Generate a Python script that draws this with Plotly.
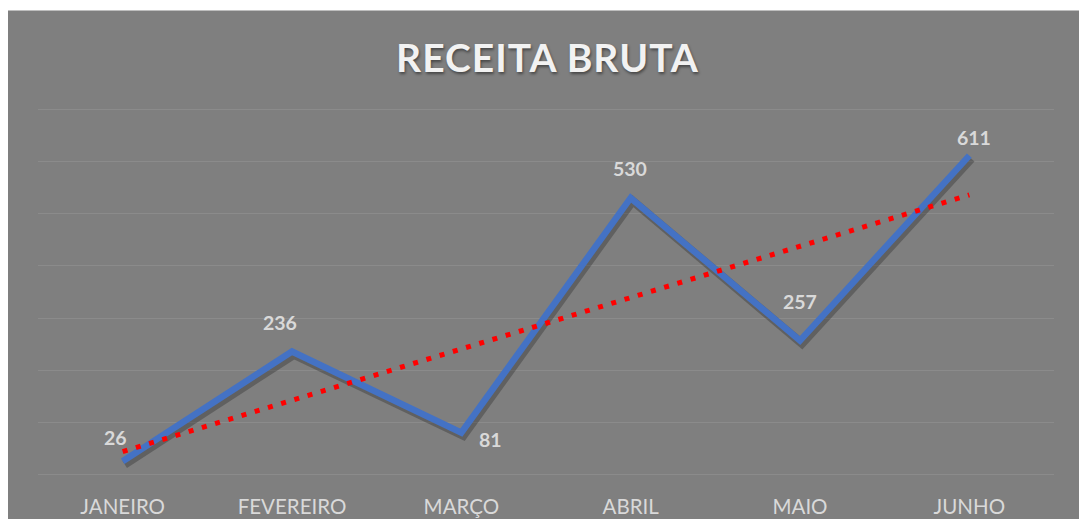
import numpy as np
import plotly.graph_objects as go

# ---- data ----
meses = ["JANEIRO", "FEVEREIRO", "MARÇO", "ABRIL", "MAIO", "JUNHO"]
receita = [26, 236, 81, 530, 257, 611]
titulo = "RECEITA BRUTA"

# linear trendline (like Excel's linear trend) computed from the data
idx = np.arange(1, len(receita) + 1)
coef = np.polyfit(idx, receita, 1)
tendencia = list(np.polyval(coef, idx))

# ---- style ----
BG = "#7f7f7f"
GRID = "#8b8b8b"
TXT = "#d9d9d9"
BLUE = "#4472c4"
FONT = "Lato"

W, H = 1079, 519
YMAX = 700
PAD = 4.0                       # extra data units so edge gridlines are drawn
PX_PER_UNIT = 366.6 / YMAX
ML, MR = 38, 25
MT = 108.7 - PAD * PX_PER_UNIT
MB = 43.7 - PAD * PX_PER_UNIT
plot_w = W - ML - MR
plot_h = H - MT - MB

# label offsets (pixels) per point
lab_dx = [-7, -12, 29, -1, 0, 5]
lab_dy = [24, 29, -7, 29, 39, 18]

fig = go.Figure()

# shadow (on main axes, which are shifted a few px down/right)
fig.add_trace(go.Scatter(
    x=meses, y=receita, mode="lines", xaxis="x", yaxis="y",
    line=dict(color="rgba(40,40,40,0.35)", width=8.5),
    hoverinfo="skip", showlegend=False,
))
# main line
fig.add_trace(go.Scatter(
    x=meses, y=receita, mode="lines", xaxis="x2", yaxis="y2",
    line=dict(color=BLUE, width=6.5),
    showlegend=False,
))
# trendline
fig.add_trace(go.Scatter(
    x=meses, y=tendencia, mode="lines", xaxis="x2", yaxis="y2",
    line=dict(color="#ff0000", width=5, dash="5px,8.8px"),
    hoverinfo="skip", showlegend=False,
))

shift_x = 2.0 / (plot_w / 6)
shift_y = 3.0 / PX_PER_UNIT

annotations = []
for m, v, dx, dy in zip(meses, receita, lab_dx, lab_dy):
    annotations.append(dict(
        x=m, y=v, xref="x2", yref="y2", text=str(v), showarrow=False,
        xanchor="center", yanchor="middle", xshift=dx, yshift=dy,
        font=dict(family=FONT, size=19.5, color=TXT, weight="bold"),
    ))

fig.update_layout(
    width=W, height=H,
    margin=dict(l=ML, r=MR, t=MT, b=MB, pad=0, autoexpand=False),
    paper_bgcolor="white",
    plot_bgcolor="rgba(0,0,0,0)",
    title=dict(
        text='<span style="letter-spacing:1px">' + titulo + '</span>',
        x=547.5 / W, xanchor="center",
        y=1 - 58 / H, yanchor="middle", yref="container",
        automargin=False,
        font=dict(family=FONT, size=39, color="#f2f2f2", weight="bold",
                  shadow="1px 2px 3px rgba(0,0,0,0.45)"),
    ),
    xaxis=dict(type="category", range=[-0.5 - shift_x, 5.5 - shift_x],
               visible=False, showgrid=False, fixedrange=True,
               automargin=False),
    yaxis=dict(range=[-PAD + shift_y, YMAX + PAD + shift_y], visible=False,
               showgrid=False, zeroline=False, fixedrange=True,
               automargin=False),
    xaxis2=dict(type="category", range=[-0.5, 5.5], overlaying="x",
                showgrid=False, zeroline=False, showline=False,
                ticks="", ticklabelstandoff=15, automargin=False,
                tickfont=dict(family=FONT, size=20.5, color=TXT)),
    yaxis2=dict(range=[-PAD, YMAX + PAD], overlaying="y", dtick=100,
                tick0=0, showgrid=True, gridcolor=GRID, gridwidth=1.2,
                zeroline=False, showline=False, showticklabels=False,
                ticks="", automargin=False),
    annotations=annotations,
    shapes=[dict(
        type="rect", xref="paper", yref="paper", layer="below",
        x0=(8 - ML) / plot_w, x1=(W - ML + 5) / plot_w,
        y0=-(MB + 5) / plot_h, y1=(H - 10 - MB) / plot_h,
        fillcolor=BG, line=dict(width=0),
    )],
    showlegend=False,
)

# remove the default 8px body margin so the figure fills the window exactly
fig.write_html(
    "out.html",
    config={"displayModeBar": False},
    post_script="document.body.style.margin='0';document.body.style.overflow='hidden';",
)
